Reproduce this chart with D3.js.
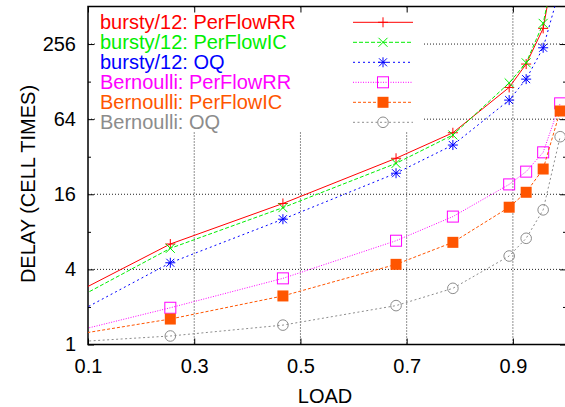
<!DOCTYPE html>
<html>
<head>
<meta charset="utf-8">
<script src="https://cdn.jsdelivr.net/npm/d3@7"></script>
<style>
  body { margin: 0; background: #fff; }
  svg { display: block; font-family: "Liberation Sans", Arial, sans-serif; }
</style>
</head>
<body>
<div id="chart"></div>
<script>
// loads (first point lies left of the visible range, it only shows as the line entering at 0.1)
var loads = [0.043, 0.255, 0.467, 0.68, 0.787, 0.893, 0.925, 0.957, 0.989];

var burstyRR = [2.19, 6.39, 13.5, 31.1, 49.8, 115, 177, 342, 1900];
var burstyIC = [1.94, 5.9, 12.5, 28.3, 47.8, 125, 181, 375, 1700];
var burstyOQ = [1.49, 4.52, 10.1, 23.6, 39.7, 91, 134, 239, 725];
var bernRR   = [1.18, 1.97, 3.39, 6.79, 10.6, 19.2, 24.3, 34.7, 85.7];
var bernIC   = [1.14, 1.6, 2.45, 4.39, 6.59, 12.6, 16.6, 25.5, 74.4];
var bernOQ   = [1.03, 1.17, 1.43, 2.05, 2.82, 5.12, 7.1, 12.0, 46.3];

var seriesNames = ["bursty/12: PerFlowRR", "bursty/12: PerFlowIC", "bursty/12: OQ",
                   "Bernoulli: PerFlowRR", "Bernoulli: PerFlowIC", "Bernoulli: OQ"];

var xTicks = [0.1, 0.3, 0.5, 0.7, 0.9];
var yTicks = [1, 4, 16, 64, 256];
var yMinor = [2, 8, 32, 128];

var W = 565, H = 407;
var pLeft = 88, pRight = 566, pTop = 6.5, pBottom = 344.5;

var series = [
  {name: seriesNames[0], values: burstyRR, color: "#ff0000", dash: null, mark: "plus"},
  {name: seriesNames[1], values: burstyIC, color: "#00ee00", dash: "4,2", mark: "cross"},
  {name: seriesNames[2], values: burstyOQ, color: "#0000ff", dash: "2,3", mark: "star"},
  {name: seriesNames[3], values: bernRR, color: "#ff00ff", dash: "1,1.5", mark: "box"},
  {name: seriesNames[4], values: bernIC, color: "#ff5500", dash: "3,2", mark: "fbox"},
  {name: seriesNames[5], values: bernOQ, color: "#8c8c8c", dash: "2,2.5", mark: "circle"}
];

var svg = d3.select("#chart").append("svg")
    .attr("width", W)
    .attr("height", H);

var x = d3.scaleLinear().domain([0.1, 1.0]).range([pLeft, pRight]);
var y = d3.scaleLog().base(2).domain([1, 512]).range([pBottom, pTop]);

svg.append("clipPath").attr("id", "plotclip")
  .append("rect")
    .attr("x", pLeft).attr("y", pTop)
    .attr("width", pRight - pLeft).attr("height", pBottom - pTop);

// grid
var grid = svg.append("g")
    .attr("stroke", "#222")
    .attr("stroke-width", 1)
    .attr("stroke-dasharray", "1,2");
grid.selectAll(".gx")
  .data(xTicks.slice(1))
  .enter().append("line")
    .attr("x1", function(d) { return x(d); })
    .attr("x2", function(d) { return x(d); })
    .attr("y1", pTop).attr("y2", pBottom);
grid.selectAll(".gy")
  .data(yTicks.slice(1))
  .enter().append("line")
    .attr("x1", pLeft).attr("x2", pRight)
    .attr("y1", function(d) { return y(d); })
    .attr("y2", function(d) { return y(d); });

// opaque key box
svg.append("rect")
    .attr("x", 96).attr("y", 8)
    .attr("width", 327).attr("height", 124)
    .attr("fill", "#fff");

// axes with inward ticks on all four sides
var fontSize = "20px";
function styleAxis(g) {
  g.select(".domain").remove();
  g.selectAll(".tick line").attr("stroke", "#000").attr("stroke-width", 1);
  g.selectAll("text").attr("fill", "#000").style("font-size", fontSize)
    .style("font-family", "Liberation Sans, Arial, sans-serif");
}

svg.append("g")
    .attr("transform", "translate(" + pLeft + ",0)")
    .call(d3.axisLeft(y).tickValues(yTicks).tickFormat(d3.format("d"))
      .tickSizeInner(-6).tickSizeOuter(0).tickPadding(12))
    .call(styleAxis);
svg.append("g")
    .attr("transform", "translate(" + pLeft + ",0)")
    .call(d3.axisLeft(y).tickValues(yMinor).tickFormat("")
      .tickSizeInner(-3).tickSizeOuter(0))
    .call(styleAxis);
svg.append("g")
    .attr("transform", "translate(" + pRight + ",0)")
    .call(d3.axisRight(y).tickValues(yTicks).tickFormat("")
      .tickSizeInner(-6).tickSizeOuter(0))
    .call(styleAxis);
svg.append("g")
    .attr("transform", "translate(" + pRight + ",0)")
    .call(d3.axisRight(y).tickValues(yMinor).tickFormat("")
      .tickSizeInner(-3).tickSizeOuter(0))
    .call(styleAxis);
svg.append("g")
    .attr("transform", "translate(0," + pBottom + ")")
    .call(d3.axisBottom(x).tickValues(xTicks).tickFormat(d3.format(".1f"))
      .tickSizeInner(-6).tickSizeOuter(0).tickPadding(14))
    .call(styleAxis);
svg.append("g")
    .attr("transform", "translate(0," + pTop + ")")
    .call(d3.axisTop(x).tickValues(xTicks).tickFormat("")
      .tickSizeInner(-6).tickSizeOuter(0))
    .call(styleAxis);

// border
svg.append("rect")
    .attr("x", pLeft).attr("y", pTop)
    .attr("width", pRight - pLeft).attr("height", pBottom - pTop)
    .attr("fill", "none")
    .attr("stroke", "#000")
    .attr("stroke-width", 1.5);

// axis titles
svg.append("text")
    .attr("x", (pLeft + pRight) / 2 - 2)
    .attr("y", 403)
    .attr("text-anchor", "middle")
    .style("font-size", fontSize)
    .text("LOAD");
svg.append("text")
    .attr("transform", "translate(35,184) rotate(-90)")
    .attr("text-anchor", "middle")
    .style("font-size", fontSize)
    .text("DELAY (CELL TIMES)");

// marker shapes
function drawMark(g, type, color) {
  if (type == "plus") {
    g.append("path").attr("d", "M-5,0H5M0,-5V5").attr("stroke", color).attr("fill", "none");
  } else if (type == "cross") {
    g.append("path").attr("d", "M-4.5,-4.5L4.5,4.5M-4.5,4.5L4.5,-4.5").attr("stroke", color).attr("fill", "none");
  } else if (type == "star") {
    g.append("path").attr("d", "M-5,0H5M0,-5V5M-4,-4L4,4M-4,4L4,-4").attr("stroke", color).attr("fill", "none");
  } else if (type == "box") {
    g.append("rect").attr("x", -5.5).attr("y", -5.5).attr("width", 11).attr("height", 11)
      .attr("stroke", color).attr("fill", "none");
  } else if (type == "fbox") {
    g.append("rect").attr("x", -5.5).attr("y", -5.5).attr("width", 11).attr("height", 11)
      .attr("fill", color);
  } else {
    g.append("circle").attr("r", 5.3).attr("stroke", color).attr("fill", "none");
  }
}

var line = d3.line()
    .x(function(d) { return x(d[0]); })
    .y(function(d) { return y(d[1]); });

var plot = svg.append("g").attr("clip-path", "url(#plotclip)");

series.forEach(function(s) {
  var pts = loads.map(function(l, i) { return [l, s.values[i]]; });
  plot.append("path")
      .datum(pts)
      .attr("fill", "none")
      .attr("stroke", s.color)
      .attr("stroke-width", 1)
      .attr("stroke-dasharray", s.dash)
      .attr("d", line);
  plot.selectAll(null)
    .data(pts.slice(1))
    .enter().append("g")
      .attr("transform", function(d) { return "translate(" + x(d[0]) + "," + y(d[1]) + ")"; })
      .each(function() { drawMark(d3.select(this), s.mark, s.color); });
});

// key
var key = svg.append("g");
series.forEach(function(s, i) {
  var ry = 22.3 + 20 * i;
  key.append("text")
      .attr("x", 100).attr("y", ry + 7)
      .attr("fill", s.color)
      .style("font-size", fontSize)
      .text(s.name);
  key.append("line")
      .attr("x1", 353).attr("x2", 413)
      .attr("y1", ry).attr("y2", ry)
      .attr("stroke", s.color)
      .attr("stroke-dasharray", s.dash);
  var m = key.append("g").attr("transform", "translate(383," + ry + ")");
  drawMark(m, s.mark, s.color);
});
</script>
</body>
</html>
